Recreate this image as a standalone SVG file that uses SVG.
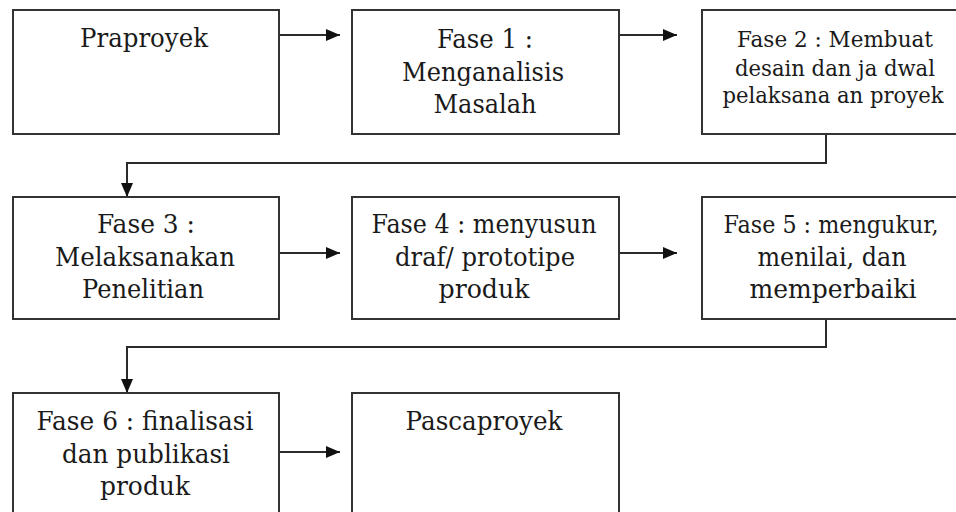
<svg xmlns="http://www.w3.org/2000/svg" width="956" height="512" viewBox="0 0 956 512">
<defs>
<style>
.box{fill:#fff;stroke:#333;stroke-width:2}
.t{font-family:'DejaVu Serif',serif;font-size:26px;fill:#1a1a1a;text-anchor:middle}
.t2{font-size:22px}
.t3{font-size:24.5px}
.c{fill:none;stroke:#2b2b2b;stroke-width:2}
</style>
<marker id="ah" markerWidth="14" markerHeight="12" refX="14" refY="6" orient="auto" markerUnits="userSpaceOnUse">
<path d="M0,0 L14,6 L0,12 Z" fill="#111"/>
</marker>
</defs>
<rect width="956" height="512" fill="#fff"/>
<g id="connectors">
<line class="c" x1="279" y1="35" x2="340" y2="35" marker-end="url(#ah)"/>
<line class="c" x1="619" y1="35" x2="677" y2="35" marker-end="url(#ah)"/>
<polyline class="c" points="826,134 826,163 127,163 127,197" marker-end="url(#ah)"/>
<line class="c" x1="279" y1="253" x2="340" y2="253" marker-end="url(#ah)"/>
<line class="c" x1="619" y1="253" x2="677" y2="253" marker-end="url(#ah)"/>
<polyline class="c" points="826,319 826,347 127,347 127,393" marker-end="url(#ah)"/>
<line class="c" x1="279" y1="452" x2="340" y2="452" marker-end="url(#ah)"/>
</g>
<g id="praproyek">
<rect class="box" x="13" y="10" width="266" height="124"/>
<text class="t" x="144" y="47" textLength="128" lengthAdjust="spacingAndGlyphs">Praproyek</text>
</g>
<g id="fase1">
<rect class="box" x="352" y="10" width="267" height="124"/>
<text class="t" x="485" y="48" textLength="96" lengthAdjust="spacingAndGlyphs">Fase 1 :</text>
<text class="t" x="483" y="81" textLength="162" lengthAdjust="spacingAndGlyphs">Menganalisis</text>
<text class="t" x="485" y="113" textLength="103" lengthAdjust="spacingAndGlyphs">Masalah</text>
</g>
<g id="fase2">
<rect class="box" x="702" y="10" width="270" height="124"/>
<text class="t t2" x="835" y="47" textLength="196" lengthAdjust="spacingAndGlyphs">Fase 2 : Membuat</text>
<text class="t t2" x="835" y="76" textLength="200" lengthAdjust="spacingAndGlyphs">desain dan ja dwal</text>
<text class="t t2" x="833" y="103" textLength="221" lengthAdjust="spacingAndGlyphs">pelaksana an proyek</text>
</g>
<g id="fase3">
<rect class="box" x="13" y="197" width="266" height="122"/>
<text class="t" x="146" y="233" textLength="98" lengthAdjust="spacingAndGlyphs">Fase 3 :</text>
<text class="t" x="145" y="266" textLength="180" lengthAdjust="spacingAndGlyphs">Melaksanakan</text>
<text class="t" x="143" y="298" textLength="122" lengthAdjust="spacingAndGlyphs">Penelitian</text>
</g>
<g id="fase4">
<rect class="box" x="352" y="197" width="267" height="122"/>
<text class="t" x="484" y="233" textLength="225" lengthAdjust="spacingAndGlyphs">Fase 4 : menyusun</text>
<text class="t" x="485" y="266" textLength="180" lengthAdjust="spacingAndGlyphs">draf/ prototipe</text>
<text class="t" x="484" y="298" textLength="91" lengthAdjust="spacingAndGlyphs">produk</text>
</g>
<g id="fase5">
<rect class="box" x="702" y="197" width="270" height="122"/>
<text class="t t3" x="831" y="233" textLength="215" lengthAdjust="spacingAndGlyphs">Fase 5 : mengukur,</text>
<text class="t" x="832" y="266" textLength="149" lengthAdjust="spacingAndGlyphs">menilai, dan</text>
<text class="t" x="833" y="298" textLength="167" lengthAdjust="spacingAndGlyphs">memperbaiki</text>
</g>
<g id="fase6">
<rect class="box" x="13" y="393" width="266" height="140"/>
<text class="t" x="145" y="430" textLength="217" lengthAdjust="spacingAndGlyphs">Fase 6 : finalisasi</text>
<text class="t" x="146" y="463" textLength="168" lengthAdjust="spacingAndGlyphs">dan publikasi</text>
<text class="t" x="145" y="495" textLength="90" lengthAdjust="spacingAndGlyphs">produk</text>
</g>
<g id="pascaproyek">
<rect class="box" x="352" y="393" width="267" height="140"/>
<text class="t" x="484" y="430" textLength="157" lengthAdjust="spacingAndGlyphs">Pascaproyek</text>
</g>
</svg>
